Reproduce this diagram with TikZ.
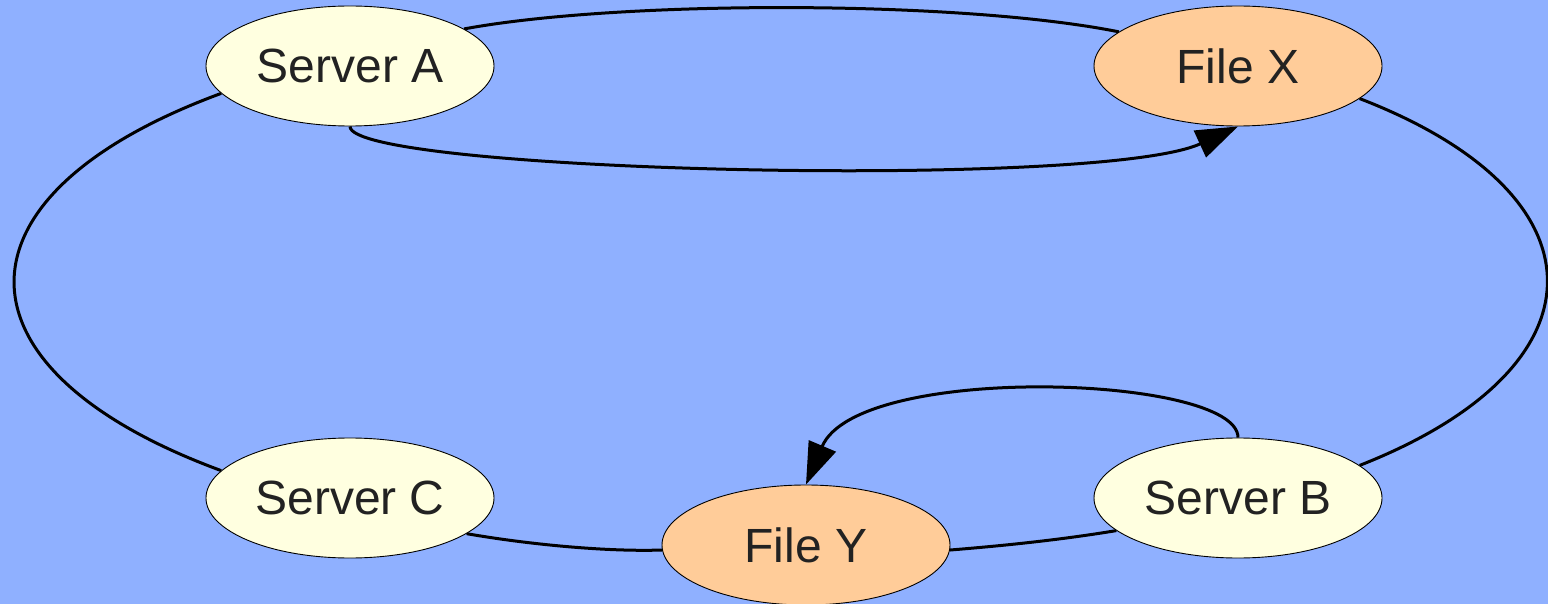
\documentclass[tikz,border=0pt]{standalone}
\usepackage{fontspec}
\setmainfont{Liberation Sans}
\usetikzlibrary{shapes.geometric,arrows.meta,backgrounds}
\definecolor{bgblue}{RGB}{143,176,255}
\definecolor{srvfill}{RGB}{255,255,224}
\definecolor{filefill}{RGB}{255,204,153}
\definecolor{txt}{RGB}{34,34,34}
\tikzset{
  base/.style={ellipse,draw=black,line width=0.9pt,minimum width=288pt,minimum height=120pt,inner sep=0pt,
    text=txt,font=\fontsize{48}{57}\selectfont},
  server/.style={base,fill=srvfill},
  file/.style={base,fill=filefill},
  link/.style={line width=3pt,black},
  arr/.style={link,-{Triangle[length=42pt,width=29pt]}}
}
\begin{document}
\begin{tikzpicture}[x=1pt,y=-1pt]
\useasboundingbox (0,0) rectangle (1548,604);
\path (350,66) node[server] (sa) {Server A}
      (1238,66) node[file] (fx) {File X}
      (350,498) node[server] (sc) {Server C}
      (806,545) node[file] (fy) {File Y}
      (1238,498) node[server] (sb) {Server B};
\begin{scope}[on background layer]
\fill[bgblue] (0,0) rectangle (1548,604);
\draw[link] (sa.18) .. controls (620,0) and (960,0) .. (fx.164);
\draw[link] (fx.-15) .. controls (1610,195) and (1610,367) .. (sb.15);
\draw[link] (sb.195) .. controls (1060,540) and (1000,546) .. (fy.-2);
\draw[link] (fy.182) .. controls (600,552) and (520,543) .. (sc.-17);
\draw[link] (sc.168) .. controls (-55,369) and (-55,195) .. (sa.192);
\end{scope}
\draw[arr] (sa.south) .. controls (350,172) and (1100,190) .. (fx.south);
\draw[arr] (sb.north) .. controls (1238,375) and (858,362) .. (fy.north);
\end{tikzpicture}
\end{document}
